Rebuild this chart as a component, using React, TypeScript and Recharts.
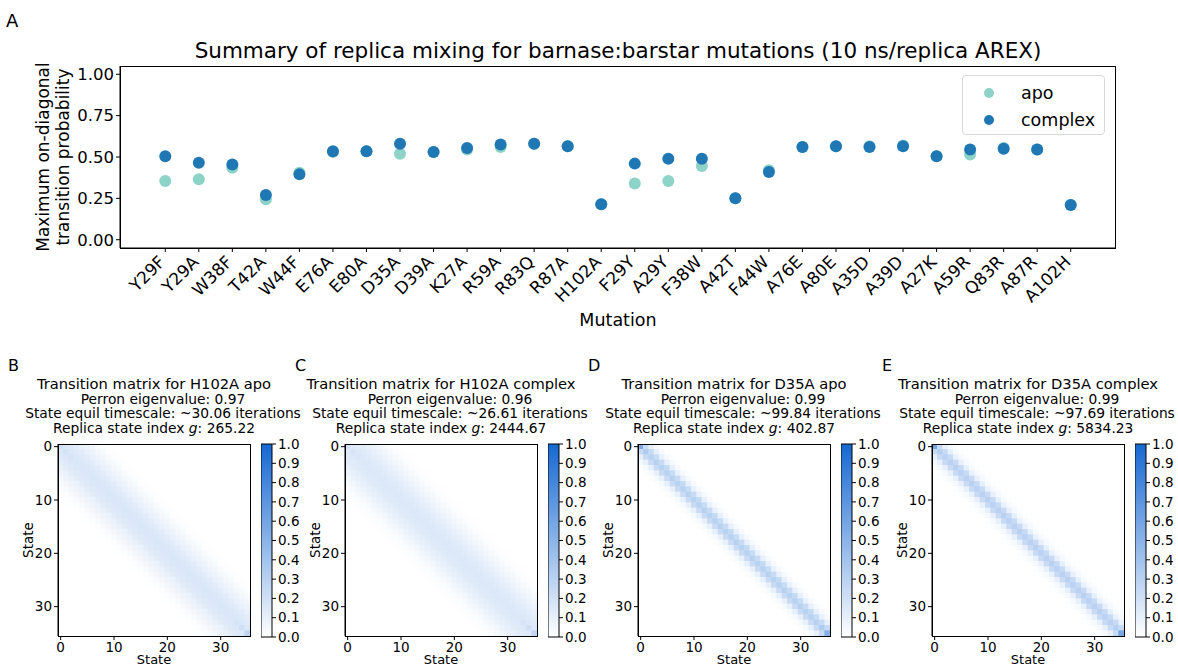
import React from 'react';
import { ScatterChart, Scatter, XAxis, YAxis, BarChart, Bar } from 'recharts';

const FONT = "'DejaVu Sans', sans-serif";

// ---------- Panel A data ----------
const mutations = [
  'Y29F', 'Y29A', 'W38F', 'T42A', 'W44F', 'E76A', 'E80A', 'D35A', 'D39A', 'K27A', 'R59A', 'R83Q', 'R87A', 'H102A',
  'F29Y', 'A29Y', 'F38W', 'A42T', 'F44W', 'A76E', 'A80E', 'A35D', 'A39D', 'A27K', 'A59R', 'Q83R', 'A87R', 'A102H',
];
const apoValues = [
  0.355, 0.365, 0.435, 0.245, 0.405, 0.53, 0.535, 0.52, 0.53, 0.545, 0.56, 0.58, 0.565, 0.215,
  0.34, 0.355, 0.445, 0.25, 0.42, 0.56, 0.565, 0.565, 0.57, 0.505, 0.515, 0.555, 0.545, 0.21,
];
const complexValues = [
  0.505, 0.465, 0.455, 0.27, 0.395, 0.535, 0.535, 0.58, 0.53, 0.555, 0.575, 0.58, 0.565, 0.215,
  0.46, 0.49, 0.49, 0.25, 0.41, 0.56, 0.565, 0.56, 0.565, 0.505, 0.545, 0.55, 0.545, 0.21,
];
const yTicksA = [0, 0.25, 0.5, 0.75, 1.0];
const seriesNames = ['apo', 'complex'];
const seriesColors = ['#8dd3c7', '#1f78b4'];

// ---------- Panels B-E data ----------
const NUM_STATES = 36;
const stateTicks = [0, 10, 20, 30];
const colorbarTicks = [0, 0.1, 0.2, 0.3, 0.4, 0.5, 0.6, 0.7, 0.8, 0.9, 1.0];

// transition probability by distance from the diagonal |i-j|
const bandH102AApo = [0.16, 0.155, 0.14, 0.12, 0.095, 0.07, 0.047, 0.028, 0.015, 0.006];
const headH102AApo = [0.2, 0.18, 0.17];
const tailH102AApo = [0.17, 0.21, 0.28];

const bandH102AComplex = [0.15, 0.145, 0.135, 0.12, 0.1, 0.078, 0.055, 0.035, 0.02, 0.01, 0.004];
const headH102AComplex = [0.19, 0.17, 0.16];
const tailH102AComplex = [0.17, 0.21, 0.27];

const bandD35AApo = [0.3, 0.24, 0.1, 0.035, 0.01];
const headD35AApo = [0.55, 0.34];
const tailD35AApo = [0.34, 0.52];

const bandD35AComplex = [0.3, 0.24, 0.1, 0.04, 0.012];
const headD35AComplex = [0.6, 0.32];
const tailD35AComplex = [0.32, 0.58];

const titlesB = ['Transition matrix for H102A apo', 'Perron eigenvalue: 0.97', 'State equil timescale: ~30.06 iterations', '265.22'];
const titlesC = ['Transition matrix for H102A complex', 'Perron eigenvalue: 0.96', 'State equil timescale: ~26.61 iterations', '2444.67'];
const titlesD = ['Transition matrix for D35A apo', 'Perron eigenvalue: 0.99', 'State equil timescale: ~99.84 iterations', '402.87'];
const titlesE = ['Transition matrix for D35A complex', 'Perron eigenvalue: 0.99', 'State equil timescale: ~97.69 iterations', '5834.23'];

function buildMatrix(band: number[], head: number[], tail: number[]) {
  const cells: { x: number; y: number; v: number }[] = [];
  for (let i = 0; i < NUM_STATES; i++) {
    for (let j = 0; j < NUM_STATES; j++) {
      const d = Math.abs(i - j);
      let v = d < band.length ? band[d] : 0;
      if (i === j && i < head.length) v = head[i];
      if (i === j && i >= NUM_STATES - tail.length) v = tail[i - (NUM_STATES - tail.length)];
      cells.push({ x: j, y: i, v });
    }
  }
  return cells;
}

const END = [22, 104, 210];
function colorFor(v: number) {
  const t = Math.max(0, Math.min(1, v));
  const r = Math.round(255 + (END[0] - 255) * t);
  const g = Math.round(255 + (END[1] - 255) * t);
  const b = Math.round(255 + (END[2] - 255) * t);
  return `rgb(${r},${g},${b})`;
}

// ---------- Panel A ----------
const apoData = mutations.map((m, i) => ({ x: i, y: apoValues[i], name: m }));
const complexData = mutations.map((m, i) => ({ x: i, y: complexValues[i], name: m }));

const RotTick = (props: any) => {
  const { x, y, payload } = props;
  return (
    <g transform={`translate(${x + 1},${y + 9})`}>
      <text transform="rotate(-45)" textAnchor="end" fontSize={17} fontFamily={FONT} fill="#000">
        {mutations[payload.value]}
      </text>
    </g>
  );
};

const dot = (color: string) => (props: any) => <circle cx={props.cx} cy={props.cy} r={6} fill={color} />;

function PanelA() {
  return (
    <div style={{ position: 'absolute', left: 0, top: 0 }}>
      <ScatterChart width={1178} height={340} margin={{ top: 66, right: 62, bottom: 22, left: 60 }}>
        <XAxis
          type="number" dataKey="x" domain={[-1.35, 28.35]} ticks={mutations.map((_, i) => i)} interval={0}
          tick={<RotTick />} tickSize={4} stroke="#000" height={70} allowDataOverflow
        />
        <YAxis
          type="number" dataKey="y" domain={[-0.05, 1.05]} ticks={yTicksA} tickFormatter={(v: number) => v.toFixed(2)}
          tick={{ fontSize: 16.5, fontFamily: FONT, fill: '#000' }} tickSize={4} stroke="#000" width={60} allowDataOverflow
        />
        <Scatter name={seriesNames[0]} data={apoData} fill={seriesColors[0]} shape={dot(seriesColors[0])} isAnimationActive={false} />
        <Scatter name={seriesNames[1]} data={complexData} fill={seriesColors[1]} shape={dot(seriesColors[1])} isAnimationActive={false} />
      </ScatterChart>
      <div style={{ position: 'absolute', left: 120, top: 66, width: 996, height: 183, border: '1px solid #000', boxSizing: 'border-box', pointerEvents: 'none' }} />
      <div style={{ position: 'absolute', left: 962, top: 75, width: 143, height: 60, border: '1px solid #d9d9d9', borderRadius: 4, background: 'rgba(255,255,255,0.8)', fontFamily: FONT, fontSize: 17.5, boxSizing: 'border-box' }}>
        {seriesNames.map((n, i) => (
          <div key={n} style={{ position: 'absolute', left: 0, top: 5 + i * 27, height: 24, display: 'flex', alignItems: 'center' }}>
            <svg width={58} height={24}><circle cx={26} cy={12} r={5} fill={seriesColors[i]} /></svg>
            <span>{n}</span>
          </div>
        ))}
      </div>
      <div style={{ position: 'absolute', left: 0, top: 38, width: 1236, textAlign: 'center', fontFamily: FONT, fontSize: 21.5, lineHeight: '26px' }}>
        Summary of replica mixing for barnase:barstar mutations (10 ns/replica AREX)
      </div>
      <div style={{ position: 'absolute', left: 6, top: 10, fontFamily: FONT, fontSize: 18 }}>A</div>
      <div style={{ position: 'absolute', left: 518, top: 310, width: 200, textAlign: 'center', fontFamily: FONT, fontSize: 17.5 }}>Mutation</div>
      <div style={{ position: 'absolute', left: 54 - 110, top: 157 - 21, width: 220, height: 42, textAlign: 'center', fontFamily: FONT, fontSize: 17, lineHeight: '20px', transform: 'rotate(-90deg)' }}>
        Maximum on-diagonal<br />transition probability
      </div>
    </div>
  );
}

// ---------- Heatmaps ----------
const CELL = 192 / NUM_STATES;

const cellShape = (props: any) => {
  const { cx, cy, payload } = props;
  if (cx == null || cy == null) return null;
  return <rect x={cx - CELL / 2 - 0.3} y={cy - CELL / 2 - 0.3} width={CELL + 0.6} height={CELL + 0.6} fill={colorFor(payload.v)} />;
};

const tickStyle = { fontSize: 13.5, fontFamily: FONT, fill: '#000' };

function Heatmap({ left, letter, titles, cells, gradId }: { left: number; letter: string; titles: string[]; cells: any[]; gradId: string }) {
  const top = 444;
  const center = left + 96;
  const cbLeft = left + 203;
  const lineStyle = (dx: number, size: number): React.CSSProperties => ({ position: 'relative', left: dx, fontSize: size });
  return (
    <>
      <div style={{ position: 'absolute', left: left - 50, top: 356, fontFamily: FONT, fontSize: 16 }}>{letter}</div>
      <div style={{ position: 'absolute', left: center - 170, top: 377, width: 340, textAlign: 'center', fontFamily: FONT, lineHeight: '14.5px', whiteSpace: 'nowrap' }}>
        <div style={lineStyle(0, 14.7)}>{titles[0]}</div>
        <div style={lineStyle(9, 13.8)}>{titles[1]}</div>
        <div style={lineStyle(9, 13.8)}>{titles[2]}</div>
        <div style={lineStyle(0, 13.8)}>Replica state index <span style={{ fontStyle: 'italic' }}>g</span>: {titles[3]}</div>
      </div>
      <div style={{ position: 'absolute', left: left - 58, top: top - 10 }}>
        <ScatterChart width={58 + 192 + 6} height={10 + 192 + 22} margin={{ top: 10, right: 6, bottom: 0, left: 18 }}>
          <XAxis type="number" dataKey="x" domain={[-0.5, 35.5]} ticks={stateTicks} interval={0} tick={tickStyle} tickSize={4} stroke="#000" height={22} allowDataOverflow />
          <YAxis type="number" dataKey="y" domain={[-0.5, 35.5]} reversed ticks={stateTicks} interval={0} tick={tickStyle} tickSize={4} stroke="#000" width={40} allowDataOverflow />
          <Scatter data={cells} shape={cellShape} isAnimationActive={false} />
        </ScatterChart>
      </div>
      <div style={{ position: 'absolute', left, top, width: 193, height: 193, border: '1px solid #000', boxSizing: 'border-box', pointerEvents: 'none' }} />
      <div style={{ position: 'absolute', left: center - 40, top: 653, width: 80, height: 13, textAlign: 'center', fontFamily: FONT, fontSize: 13, lineHeight: '13px' }}>State</div>
      <div style={{ position: 'absolute', left: left - 30 - 30, top: 540 - 8, width: 60, height: 16, textAlign: 'center', fontFamily: FONT, fontSize: 13.5, lineHeight: '16px', transform: 'rotate(-90deg)' }}>State</div>
      <div style={{ position: 'absolute', left: cbLeft, top: top - 10 }}>
        <BarChart width={11 + 45} height={213} data={[{ name: 'cb', v: 1 }]} margin={{ top: 10, right: 0, bottom: 10, left: 0 }} barCategoryGap={0}>
          <defs>
            <linearGradient id={gradId} x1="0" y1="1" x2="0" y2="0">
              <stop offset="0%" stopColor={colorFor(0)} />
              <stop offset="100%" stopColor={colorFor(1)} />
            </linearGradient>
          </defs>
          <XAxis dataKey="name" hide />
          <YAxis orientation="right" type="number" domain={[0, 1]} ticks={colorbarTicks} interval={0} tickFormatter={(v: number) => v.toFixed(1)} tick={tickStyle} tickSize={4} stroke="#000" axisLine={false} width={45} />
          <Bar dataKey="v" fill={`url(#${gradId})`} stroke="#000" strokeWidth={1} isAnimationActive={false} />
        </BarChart>
      </div>
    </>
  );
}

export default function App() {
  const mB = buildMatrix(bandH102AApo, headH102AApo, tailH102AApo);
  const mC = buildMatrix(bandH102AComplex, headH102AComplex, tailH102AComplex);
  const mD = buildMatrix(bandD35AApo, headD35AApo, tailD35AApo);
  const mE = buildMatrix(bandD35AComplex, headD35AComplex, tailD35AComplex);
  return (
    <div style={{ position: 'absolute', left: 0, top: 0, width: 1178, height: 666, background: '#fff', overflow: 'hidden', fontFamily: FONT }}>
      <PanelA />
      <Heatmap left={58} letter="B" titles={titlesB} cells={mB} gradId="gB" />
      <Heatmap left={345} letter="C" titles={titlesC} cells={mC} gradId="gC" />
      <Heatmap left={638} letter="D" titles={titlesD} cells={mD} gradId="gD" />
      <Heatmap left={932} letter="E" titles={titlesE} cells={mE} gradId="gE" />
    </div>
  );
}
